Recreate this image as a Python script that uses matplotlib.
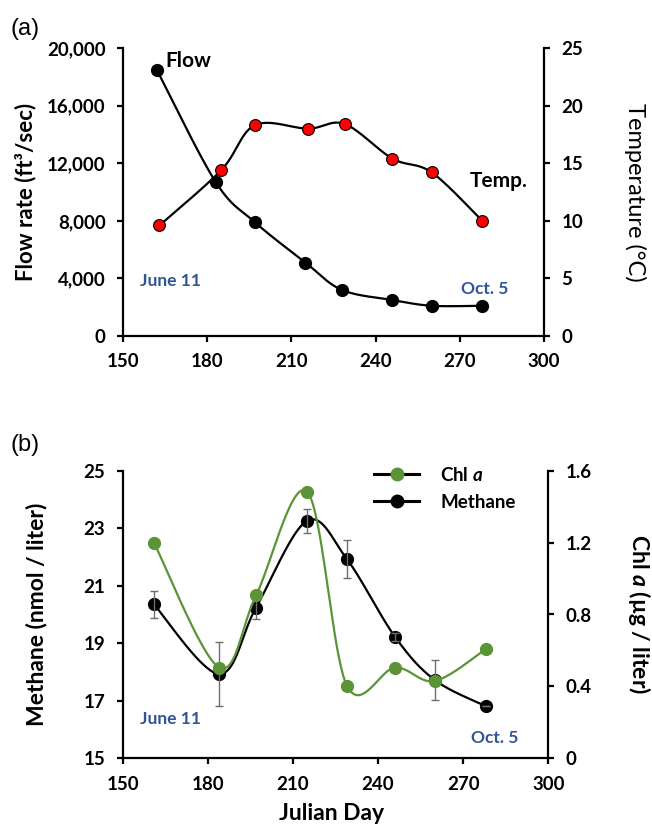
import numpy as np
import matplotlib
matplotlib.use("Agg")
import matplotlib.pyplot as plt
from matplotlib.lines import Line2D

plt.rcParams["font.family"] = ["Lato", "DejaVu Sans"]
plt.rcParams["font.weight"] = "bold"
plt.rcParams["mathtext.fontset"] = "custom"
plt.rcParams["mathtext.rm"] = "Lato:bold"
plt.rcParams["mathtext.it"] = "Lato:bold:italic"

# ---- Data: panel (a) ----
flow_day = [162, 183, 197, 215, 228, 246, 260, 278]
flow = [18500, 10700, 7900, 5100, 3200, 2500, 2100, 2100]
temp_day = [163, 185, 197, 216, 229, 246, 260, 278]
temp = [9.6, 14.4, 18.3, 18.0, 18.4, 15.4, 14.2, 10.0]

# ---- Data: panel (b) ----
day_b = [161, 184, 197, 215, 229, 246, 260, 278]
methane = [20.35, 17.93, 20.24, 23.26, 21.93, 19.22, 17.72, 16.81]
methane_err = [0.48, 1.1, 0.4, 0.42, 0.66, 0.15, 0.7, 0.0]
chl = [1.20, 0.505, 0.906, 1.483, 0.405, 0.505, 0.43, 0.608]

x_ticks = [150, 180, 210, 240, 270, 300]
flow_ticks = [0, 4000, 8000, 12000, 16000, 20000]
flow_labels = ["0", "4,000", "8,000", "12,000", "16,000", "20,000"]
temp_ticks = [0, 5, 10, 15, 20, 25]
meth_ticks = [15, 17, 19, 21, 23, 25]
chl_ticks = [0, 0.4, 0.8, 1.2, 1.6]
chl_labels = ["0", "0.4", "0.8", "1.2", "1.6"]

BLUE = "#2F5597"
GREEN = "#5B9436"
W, H = 652, 840


def smooth(x, y, n=40):
    # Excel-style smoothed line (Catmull-Rom as cubic Bezier)
    p = np.column_stack([x, y]).astype(float)
    p = np.vstack([p[0], p, p[-1]])
    pts = []
    t = np.linspace(0, 1, n)[:, None]
    for i in range(1, len(p) - 2):
        p0, p1, p2, p3 = p[i - 1], p[i], p[i + 1], p[i + 2]
        c1 = p1 + (p2 - p0) / 6
        c2 = p2 - (p3 - p1) / 6
        seg = ((1 - t) ** 3) * p1 + 3 * ((1 - t) ** 2) * t * c1 + 3 * (1 - t) * t ** 2 * c2 + t ** 3 * p2
        pts.append(seg)
    pts = np.vstack(pts)
    return pts[:, 0], pts[:, 1]


def style(ax, right=False):
    ax.spines["top"].set_visible(False)
    if right:
        ax.spines["left"].set_visible(False)
        ax.spines["bottom"].set_visible(False)
    else:
        ax.spines["right"].set_visible(False)
    for s in ax.spines.values():
        s.set_linewidth(1.6)
    ax.tick_params(direction="out", length=4.5, width=1.6, labelsize=13.5, pad=8)


fig = plt.figure(figsize=(W / 100, H / 100), dpi=100)

# ---------------- Panel (a) ----------------
ax1 = fig.add_axes([123 / W, 1 - 336 / H, 421 / W, 288 / H])
ax1.set_xlim(150, 300)
ax1.set_ylim(0, 20000)
ax1.set_xticks(x_ticks)
ax1.set_yticks(flow_ticks)
ax1.set_yticklabels(flow_labels)
sx, sy = smooth(flow_day, flow)
ax1.plot(sx, sy, color="black", lw=1.6, zorder=2)
ax1.plot(flow_day, flow, "o", color="black", ms=8.5, zorder=3)
style(ax1)
ax1.text(165, 19100, "Flow", fontsize=15, va="center", ha="left")
ax1.text(167, 3830, "June 11", fontsize=12.5, color=BLUE, ha="center", va="center")
ax1.text(279, 3240, "Oct. 5", fontsize=12.5, color=BLUE, ha="center", va="center")
ax1.text(284, 10730, "Temp.", fontsize=15, va="center", ha="center")

ax2 = ax1.twinx()
ax2.set_ylim(0, 25)
ax2.set_yticks(temp_ticks)
tx, ty = smooth(temp_day, temp)
ax2.plot(tx, ty, color="black", lw=1.6, zorder=2)
ax2.plot(temp_day, temp, "o", color="red", mec="black", mew=0.8, ms=8.5, zorder=3)
style(ax2, right=True)

fig.text(26 / W, 1 - 192 / H, "Flow rate (ft³/sec)", rotation=90, fontsize=16,
         ha="center", va="center")
fig.text(635 / W, 1 - 192 / H, "Temperature (°C)", rotation=270, fontsize=17,
         fontweight="normal", ha="center", va="center")
fig.text(10 / W, 1 - 29 / H, "(a)", fontsize=17, fontweight="normal",
         family="Liberation Sans", ha="left", va="center")

# ---------------- Panel (b) ----------------
ax3 = fig.add_axes([122.7 / W, 1 - 758.3 / H, 425.6 / W, 287.6 / H])
ax3.set_xlim(150, 300)
ax3.set_ylim(15, 25)
ax3.set_xticks(x_ticks)
ax3.set_yticks(meth_ticks)
mx, my = smooth(day_b, methane)
ax3.plot(mx, my, color="black", lw=1.6, zorder=2)
ax3.plot(day_b, methane, "o", color="black", ms=8.5, zorder=3)
ax3.errorbar(day_b, methane, yerr=methane_err, fmt="none", ecolor="#6E6E6E",
             elinewidth=1, capsize=3, capthick=1, zorder=4)
style(ax3)
ax3.text(167, 16.38, "June 11", fontsize=12.5, color=BLUE, ha="center", va="center")
ax3.text(281, 15.69, "Oct. 5", fontsize=12.5, color=BLUE, ha="center", va="center")

ax4 = ax3.twinx()
ax4.set_ylim(0, 1.6)
ax4.set_yticks(chl_ticks)
ax4.set_yticklabels(chl_labels)
cx, cy = smooth(day_b, chl)
ax4.plot(cx, cy, color=GREEN, lw=1.6, zorder=2)
ax4.plot(day_b, chl, "o", color=GREEN, ms=8.5, zorder=3)
style(ax4, right=True)

handles = [
    Line2D([], [], color="black", lw=2.2, marker="o", mfc=GREEN, mec=GREEN, ms=9),
    Line2D([], [], color="black", lw=2.2, marker="o", mfc="black", mec="black", ms=9),
]
leg = ax4.legend(handles, ["Chl $a$", "Methane"], loc="center left",
                 bbox_to_anchor=(365 / W, 1 - 488.4 / H), bbox_transform=fig.transFigure,
                 frameon=False, borderpad=0, handlelength=2.4, handletextpad=1.1,
                 labelspacing=0.55, prop={"size": 13.5, "weight": "bold"})

fig.text(37 / W, 1 - 614 / H, "Methane (nmol / liter)", rotation=90, fontsize=16.5,
         ha="center", va="center")
fig.text(639 / W, 1 - 614 / H, "Chl $a$ (µg / liter)", rotation=270, fontsize=16.5,
         ha="center", va="center")
fig.text(332 / W, 1 - 813 / H, "Julian Day", fontsize=16.5, ha="center", va="center")
fig.text(10 / W, 1 - 445 / H, "(b)", fontsize=17, fontweight="normal",
         family="Liberation Sans", ha="left", va="center")

fig.savefig("out.png", dpi=100)
